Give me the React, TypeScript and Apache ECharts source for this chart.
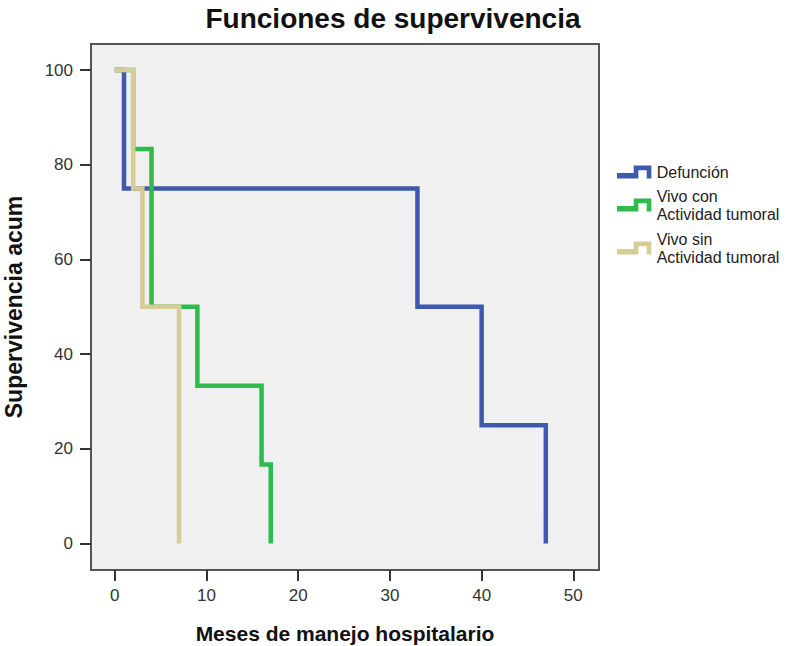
import React, { useEffect, useRef } from "react";
import * as echarts from "echarts";

const title = "Funciones de supervivencia";
const xName = "Meses de manejo hospitalario";
const yName = "Supervivencia acum";
const xTicks = [0, 10, 20, 30, 40, 50];
const yTicks = [0, 20, 40, 60, 80, 100];

const seriesNames = ["Defunción", "Vivo con\nActividad tumoral", "Vivo sin\nActividad tumoral"];
const seriesColors = ["#3e59ad", "#2dbb4b", "#d4cd96"];

// [months, cumulative survival]
const defuncion = [
  [0, 100],
  [1, 75],
  [33, 50],
  [40, 25],
  [47, 0],
];
const vivoCon = [
  [0, 100],
  [2, 83.33],
  [4, 50],
  [9, 33.33],
  [16, 16.67],
  [17, 0],
];
const vivoSin = [
  [0, 100],
  [2, 75],
  [3, 50],
  [7, 0],
];
const seriesData = [defuncion, vivoCon, vivoSin];

const stepIcon = "path://M0,8 L18,8 L18,0 L37,0 L37,14 L32,14 L32,5 L23,5 L23,14 L0,14 Z";

export default function App() {
  const ref = useRef<HTMLDivElement>(null);
  useEffect(() => {
    if (!ref.current) return;
    const chart = echarts.init(ref.current, undefined, { renderer: "svg" });
    const font = "'Liberation Sans', Arial, sans-serif";
    const legendTops = [163, 187, 230];
    chart.setOption({
      animation: false,
      backgroundColor: "#ffffff",
      title: {
        text: title,
        left: 393,
        textAlign: "center",
        top: 4,
        padding: 0,
        textStyle: { fontFamily: font, fontSize: 28, fontWeight: "bold", color: "#111" },
      },
      legend: seriesNames.map((n, i) => ({
        data: [n],
        left: 617,
        top: legendTops[i],
        padding: 0,
        orient: "vertical",
        icon: stepIcon,
        itemWidth: 35,
        itemHeight: 13,
        selectedMode: false,
        textStyle: { fontFamily: font, fontSize: 16, color: "#222", lineHeight: 18 },
      })),
      grid: {
        left: 91,
        right: 205,
        top: 44,
        bottom: 76,
        outerBoundsMode: "none",
        containLabel: false,
        show: true,
        backgroundColor: "#f0f0f0",
        borderColor: "#555",
        borderWidth: 2,
      },
      xAxis: {
        type: "value",
        min: -2.6,
        max: 52.8,
        name: xName,
        nameLocation: "middle",
        nameGap: 53,
        nameTextStyle: { fontFamily: font, fontSize: 21, fontWeight: "bold", color: "#111" },
        axisLine: { show: false, onZero: false },
        splitLine: { show: false },
        axisTick: {
          show: true,
          length: 11,
          customValues: xTicks,
          lineStyle: { color: "#333", width: 2 },
        },
        axisLabel: {
          customValues: xTicks,
          margin: 17,
          fontFamily: font,
          fontSize: 17,
          color: "#333",
        },
      },
      yAxis: {
        type: "value",
        min: -5.6,
        max: 105.5,
        name: yName,
        nameLocation: "middle",
        nameGap: 66,
        nameTextStyle: { fontFamily: font, fontSize: 23, fontWeight: "bold", color: "#111" },
        axisLine: { show: false, onZero: false },
        splitLine: { show: false },
        axisTick: {
          show: true,
          length: 11,
          customValues: yTicks,
          lineStyle: { color: "#333", width: 2 },
        },
        axisLabel: {
          customValues: yTicks,
          margin: 18,
          fontFamily: font,
          fontSize: 17,
          color: "#333",
        },
      },
      series: seriesNames.map((n, i) => ({
        name: n,
        type: "line",
        step: "end",
        symbol: "none",
        data: seriesData[i],
        color: seriesColors[i],
        lineStyle: { color: seriesColors[i], width: 4.5, cap: "butt", join: "miter" },
        z: 2 + i,
      })),
    });
    return () => chart.dispose();
  }, []);
  return (
    <div
      ref={ref}
      style={{ position: "fixed", left: 0, top: 0, width: 804, height: 646 }}
    />
  );
}
